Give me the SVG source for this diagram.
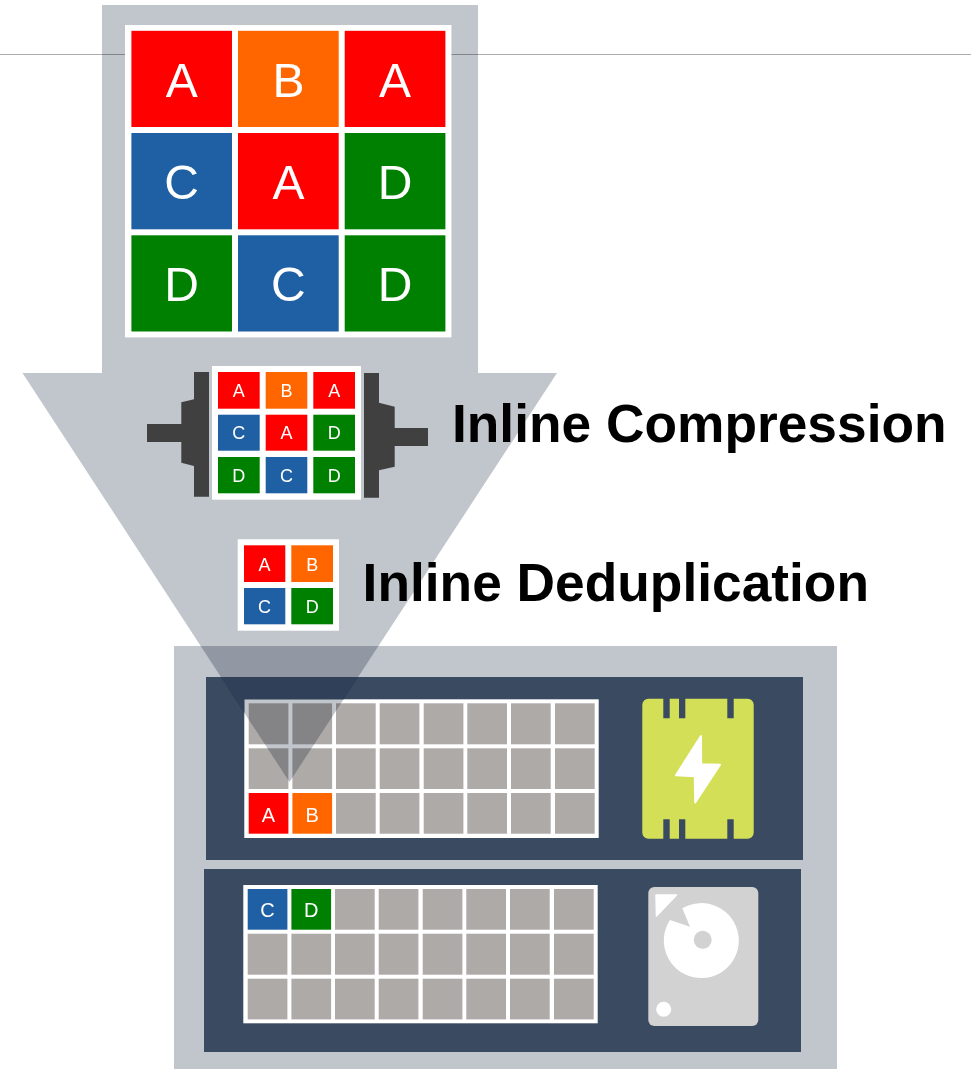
<svg xmlns="http://www.w3.org/2000/svg" width="971" height="1069" viewBox="0 0 971 1069">
<style>
text{font-family:"Liberation Sans",Arial,sans-serif}
.w{fill:#fff}
.r{fill:#f00}.o{fill:#f60}.b{fill:#1f5fa3}.g{fill:#008000}.e{fill:#aeaaa8}
.l{fill:#fff;text-anchor:middle}
.l48{font-size:48px}.l18{font-size:18px}.l20{font-size:20px}
.h{font-size:53.3px;font-weight:bold;fill:#000}
.rack{fill:#3a4a61}
.clamp{fill:#404040}
</style>
<rect width="971" height="1069" fill="#fff"/>
<rect id="rule" x="0" y="54" width="971" height="1" fill="#acacac"/>
<g id="storage">
<rect x="174" y="646" width="663" height="423" fill="#c1c5cc"/>
<rect class="rack" x="206" y="677" width="597" height="183"/>
<rect class="rack" x="204" y="869" width="597" height="183"/>
</g>
<g id="ssd-grid">
<rect class="w" x="244.3" y="699.3" width="354.4" height="138.7"/>
<g class="e">
<rect x="248.7" y="703.3" width="39.7" height="41"/><rect x="292.4" y="703.3" width="39.7" height="41"/><rect x="336" y="703.3" width="39.7" height="41"/><rect x="379.7" y="703.3" width="39.7" height="41"/><rect x="423.7" y="703.3" width="39.7" height="41"/><rect x="467.3" y="703.3" width="39.7" height="41"/><rect x="511" y="703.3" width="39.7" height="41"/><rect x="555" y="703.3" width="39.7" height="41"/>
<rect x="248.7" y="748.3" width="39.7" height="40.7"/><rect x="292.4" y="748.3" width="39.7" height="40.7"/><rect x="336" y="748.3" width="39.7" height="40.7"/><rect x="379.7" y="748.3" width="39.7" height="40.7"/><rect x="423.7" y="748.3" width="39.7" height="40.7"/><rect x="467.3" y="748.3" width="39.7" height="40.7"/><rect x="511" y="748.3" width="39.7" height="40.7"/><rect x="555" y="748.3" width="39.7" height="40.7"/>
<rect x="336" y="793" width="39.7" height="40.7"/><rect x="379.7" y="793" width="39.7" height="40.7"/><rect x="423.7" y="793" width="39.7" height="40.7"/><rect x="467.3" y="793" width="39.7" height="40.7"/><rect x="511" y="793" width="39.7" height="40.7"/><rect x="555" y="793" width="39.7" height="40.7"/>
</g>
<rect class="r" x="248.7" y="793" width="39.7" height="40.7"/><rect class="o" x="292.4" y="793" width="39.7" height="40.7"/>
<text class="l l20" x="268.5" y="821.7">A</text><text class="l l20" x="312.2" y="821.7">B</text>
</g>
<g id="hdd-grid">
<rect class="w" x="243.3" y="885" width="354.4" height="138.3"/>
<g class="e">
<rect x="335" y="889" width="39.7" height="40.7"/><rect x="378.7" y="889" width="39.7" height="40.7"/><rect x="422.7" y="889" width="39.7" height="40.7"/><rect x="466.3" y="889" width="39.7" height="40.7"/><rect x="510" y="889" width="39.7" height="40.7"/><rect x="554" y="889" width="39.7" height="40.7"/>
<rect x="247.7" y="933.7" width="39.7" height="41"/><rect x="291.4" y="933.7" width="39.7" height="41"/><rect x="335" y="933.7" width="39.7" height="41"/><rect x="378.7" y="933.7" width="39.7" height="41"/><rect x="422.7" y="933.7" width="39.7" height="41"/><rect x="466.3" y="933.7" width="39.7" height="41"/><rect x="510" y="933.7" width="39.7" height="41"/><rect x="554" y="933.7" width="39.7" height="41"/>
<rect x="247.7" y="978.7" width="39.7" height="40.7"/><rect x="291.4" y="978.7" width="39.7" height="40.7"/><rect x="335" y="978.7" width="39.7" height="40.7"/><rect x="378.7" y="978.7" width="39.7" height="40.7"/><rect x="422.7" y="978.7" width="39.7" height="40.7"/><rect x="466.3" y="978.7" width="39.7" height="40.7"/><rect x="510" y="978.7" width="39.7" height="40.7"/><rect x="554" y="978.7" width="39.7" height="40.7"/>
</g>
<rect class="b" x="247.7" y="889" width="39.7" height="40.7"/><rect class="g" x="291.4" y="889" width="39.7" height="40.7"/>
<text class="l l20" x="267.4" y="916.8">C</text><text class="l l20" x="311.2" y="916.8">D</text>
</g>
<g id="ssd-icon">
<path fill="#d3df57" d="M648.3 698.7H663.3V718.3H669.7V698.7H679V718.3H685.3V698.7H727.3V718.3H733.7V698.7H747.7A6 6 0 0 1 753.7 704.7V832.7A6 6 0 0 1 747.7 838.7H733.7V819.3H727.3V838.7H685.3V819.3H679V838.7H669.7V819.3H663.3V838.7H648.3A6 6 0 0 1 642.3 832.7V704.7A6 6 0 0 1 648.3 698.7Z"/>
<path fill="#fff" stroke="#fff" stroke-width="2" stroke-linejoin="round" d="M701 736L701.2 764.2L720 764.8L695.2 802.4L694.8 776.2L676 775.2Z"/>
</g>
<g id="hdd-icon">
<rect x="648.3" y="887" width="110" height="139" rx="6" fill="#d2d2d2"/>
<path fill="#fff" stroke="#fff" stroke-width="1.5" stroke-linejoin="round" d="M656 895H676.5L656.5 916Z"/>
<path fill="#fff" d="M682.3 908.3L690 926.7L670 920A37.5 37.5 0 1 0 682.3 908.3Z"/>
<circle cx="702.7" cy="939.8" r="9" fill="#d2d2d2"/>
<circle cx="663.7" cy="1009.3" r="7.5" fill="#fff"/>
</g>
<path id="flow-arrow" style="mix-blend-mode:multiply" fill="#c1c5cc" d="M102 5H478V373H557L289.5 782L22.5 373H102Z"/>
<path id="flow-arrow-over-rack" fill="#2f4058" d="M220.9 677H358.2L343.6 699.3H244.3V712.7Z"/>
<g id="source-grid">
<rect class="w" x="125" y="25" width="326.4" height="312.4"/>
<rect class="r" x="131.4" y="30.8" width="100.6" height="96.2"/><rect class="o" x="238" y="30.8" width="100.7" height="96.2"/><rect class="r" x="344.7" y="30.8" width="100.7" height="96.2"/>
<rect class="b" x="131.4" y="133" width="100.6" height="96.3"/><rect class="r" x="238" y="133" width="100.7" height="96.3"/><rect class="g" x="344.7" y="133" width="100.7" height="96.3"/>
<rect class="g" x="131.4" y="235.3" width="100.6" height="96.2"/><rect class="b" x="238" y="235.3" width="100.7" height="96.2"/><rect class="g" x="344.7" y="235.3" width="100.7" height="96.2"/>
<text class="l l48" x="181.7" y="96.7">A</text><text class="l l48" x="288.4" y="96.7">B</text><text class="l l48" x="395" y="96.7">A</text>
<text class="l l48" x="181.7" y="199">C</text><text class="l l48" x="288.4" y="199">A</text><text class="l l48" x="395" y="199">D</text>
<text class="l l48" x="181.7" y="301">D</text><text class="l l48" x="288.4" y="301">C</text><text class="l l48" x="395" y="301">D</text>
</g>
<g id="compressor">
<path class="clamp" d="M194 372H209V496.7H194V466L181.3 462.7V442H147V424H181.3V402.3L194 399.3Z"/>
<path class="clamp" d="M364 373H379V402.7L394.7 406.7V428H428V446H394.7V466.7L379 470.3V497.7H364Z"/>
<rect class="w" x="212" y="366" width="149" height="133.7"/>
<rect class="r" x="218" y="372" width="41.7" height="36.7"/><rect class="o" x="265.7" y="372" width="41.6" height="36.7"/><rect class="r" x="313.3" y="372" width="41.7" height="36.7"/>
<rect class="b" x="218" y="414.7" width="41.7" height="36"/><rect class="r" x="265.7" y="414.7" width="41.6" height="36"/><rect class="g" x="313.3" y="414.7" width="41.7" height="36"/>
<rect class="g" x="218" y="457" width="41.7" height="36.3"/><rect class="b" x="265.7" y="457" width="41.6" height="36.3"/><rect class="g" x="313.3" y="457" width="41.7" height="36.3"/>
<text class="l l18" x="238.8" y="396.7">A</text><text class="l l18" x="286.5" y="396.7">B</text><text class="l l18" x="334.2" y="396.7">A</text>
<text class="l l18" x="238.8" y="439.3">C</text><text class="l l18" x="286.5" y="439.3">A</text><text class="l l18" x="334.2" y="439.3">D</text>
<text class="l l18" x="238.8" y="481.7">D</text><text class="l l18" x="286.5" y="481.7">C</text><text class="l l18" x="334.2" y="481.7">D</text>
</g>
<g id="dedup">
<rect class="w" x="237.7" y="539.3" width="101.3" height="91.4"/>
<rect class="r" x="244" y="545.3" width="41.3" height="36.7"/><rect class="o" x="291.3" y="545.3" width="41.7" height="36.7"/>
<rect class="b" x="244" y="588" width="41.3" height="36.3"/><rect class="g" x="291.3" y="588" width="41.7" height="36.3"/>
<text class="l l18" x="264.6" y="570.7">A</text><text class="l l18" x="312.2" y="570.7">B</text>
<text class="l l18" x="264.6" y="612.7">C</text><text class="l l18" x="312.2" y="612.7">D</text>
</g>
<text id="label-compression" class="h" x="452" y="441.5">Inline Compression</text>
<text id="label-dedup" class="h" x="362.6" y="601">Inline Deduplication</text>
</svg>
